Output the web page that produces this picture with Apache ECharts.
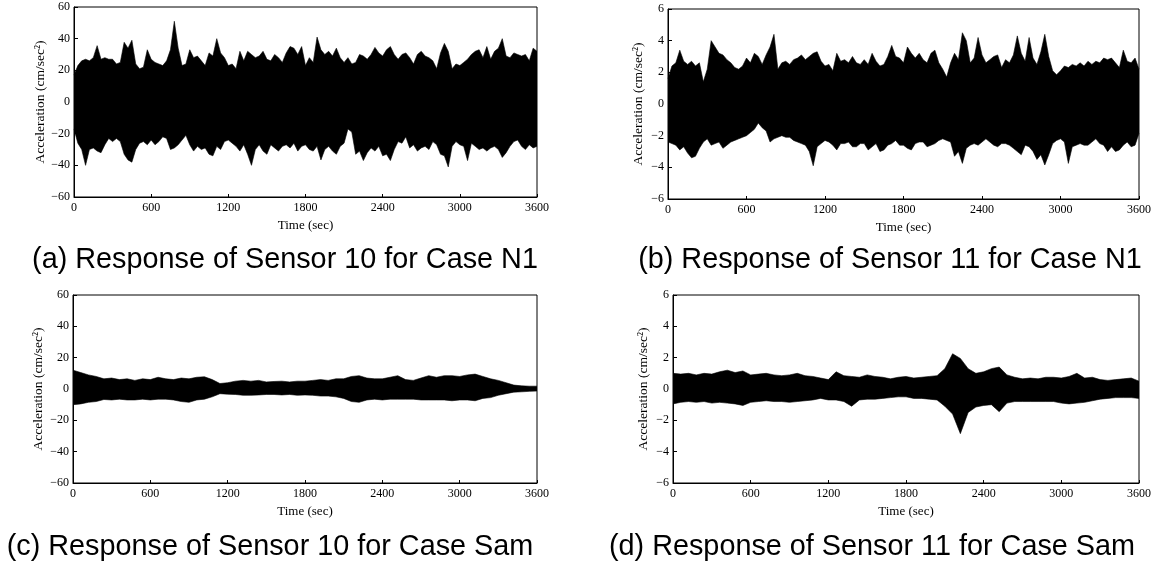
<!DOCTYPE html>
<html lang="en">
<head>
    <meta charset="UTF-8">
    <title>Sensor response</title>
    <script src="https://cdn.jsdelivr.net/npm/echarts@6/dist/echarts.min.js"></script>
    <style type="text/css">
        html, body { margin: 0; padding: 0; background: #fff; }
        #main { width: 1154px; height: 563px; }
    </style>
</head>
<body>
<div id="main"></div>
<script type="text/javascript">
    // time grid (sec): envelopes read every 30 s (case N1) and every 60 s (case Sam)
    const t30 = [];
    for (let s = 0; s <= 3600; s += 30) t30.push(s);
    const t60 = [];
    for (let s = 0; s <= 3600; s += 60) t60.push(s);

    const xTicks = [0, 600, 1200, 1800, 2400, 3000, 3600];

    // (a) sensor 10, case N1 - upper / lower peak envelope (cm/sec^2)
    const s10N1Upper = [17, 23, 26, 27, 26, 28, 35.6, 27, 28, 27, 27, 24, 25, 37.7, 34, 39, 24, 21, 22, 33,
        27, 25, 24, 23, 26, 33, 51, 34, 23, 24, 33, 28, 29, 26, 23, 31, 29, 40, 31, 28,
        23, 24, 21, 32, 26, 32, 30, 28, 29, 32, 27, 26, 30, 28, 25, 31, 35, 34, 30, 35,
        23, 28, 25, 41, 33, 30, 32, 29, 34, 28, 25, 28, 24, 25, 30, 29, 27, 30, 34.5, 31,
        29, 33, 35, 30, 27, 30, 31, 28, 24, 30, 32, 29, 28, 26, 21, 31, 37, 32, 21, 24,
        23, 25, 27, 30, 32, 33, 28, 35, 27, 32, 34, 40, 29, 28, 31, 30, 29, 30, 26, 34, 32];
    const s10N1Lower = [-17, -26, -30, -40, -30, -29, -31, -32, -27, -23, -25, -23, -25, -33, -36.6, -38, -30, -26, -25, -27,
        -24, -27, -25, -22, -23, -30, -29, -27, -24, -21, -27, -31, -28, -30, -29, -33, -34, -28, -30, -25,
        -24, -26, -28, -31, -27, -33, -40, -30, -27, -31, -33, -27, -29, -31, -28, -27, -29, -26, -31, -28,
        -27, -30, -31, -28, -36.6, -30, -28, -31, -33, -28, -26, -17, -19, -33, -31, -37, -32, -29, -31, -28,
        -34, -33, -37, -30, -25, -26, -22, -29, -27, -31, -29, -28, -30, -25, -27, -33, -34, -41, -28, -25,
        -27, -28, -37, -26, -28, -30, -29, -31, -29, -28, -30, -35, -32, -28, -25, -24, -28, -30, -27, -29, -28];

    // (b) sensor 11, case N1
    const s11N1Upper = [1.6, 2.4, 2.6, 3.4, 2.7, 2.5, 2.7, 2.4, 2.6, 1.4, 2.2, 4.0, 3.6, 3.2, 3.1, 2.8, 2.6, 2.3, 2.2, 2.4,
        2.9, 2.6, 3.2, 3.0, 2.5, 3.1, 3.6, 4.4, 2.2, 2.6, 2.7, 2.5, 2.8, 2.9, 3.1, 2.8, 3.0, 3.2, 3.3, 2.7,
        2.4, 2.5, 2.1, 3.2, 2.7, 2.8, 2.6, 3.0, 2.6, 2.5, 2.8, 2.5, 3.2, 2.7, 2.4, 2.5, 3.0, 3.7, 3.0, 2.9,
        2.6, 3.6, 3.2, 2.9, 3.2, 2.8, 2.6, 3.2, 3.4, 2.6, 2.2, 1.7, 2.6, 3.2, 2.8, 4.5, 4.0, 2.6, 2.9, 4.2,
        3.1, 2.6, 2.8, 3.0, 3.1, 2.3, 2.8, 2.6, 3.1, 4.3, 3.2, 2.7, 4.2, 2.9, 2.5, 3.3, 4.4, 3.0, 2.1, 1.85,
        2.1, 2.4, 2.3, 2.5, 2.4, 2.6, 2.4, 2.7, 2.5, 2.7, 2.6, 2.9, 2.8, 2.9, 2.6, 2.3, 3.4, 2.7, 2.6, 2.9, 2.2];
    const s11N1Lower = [-2.4, -2.5, -2.6, -2.9, -2.7, -3.1, -3.4, -3.3, -2.8, -2.4, -2.2, -2.6, -2.5, -2.4, -2.8, -2.6, -2.4, -2.3, -2.2, -2.1,
        -2.0, -1.8, -1.6, -1.2, -1.5, -1.7, -2.4, -2.2, -2.1, -2.0, -2.1, -2.1, -2.3, -2.4, -2.5, -2.6, -3.0, -3.9, -2.7, -2.5,
        -2.3, -2.4, -2.6, -2.9, -2.5, -2.5, -2.4, -2.7, -2.7, -2.5, -2.5, -2.9, -2.7, -2.5, -3.0, -2.9, -2.6, -2.5, -2.3, -2.6,
        -2.6, -2.8, -2.9, -2.5, -2.4, -2.4, -2.7, -2.6, -2.5, -2.3, -2.2, -2.3, -2.4, -3.3, -3.0, -3.75, -2.8, -2.6, -2.5, -2.6,
        -2.4, -2.2, -2.4, -2.6, -2.7, -2.5, -2.5, -2.6, -2.8, -3.0, -3.2, -2.6, -2.7, -3.0, -3.5, -3.2, -3.85, -3.2, -2.5, -2.3,
        -2.2, -2.4, -3.75, -2.7, -2.6, -2.5, -2.6, -2.6, -2.4, -2.2, -2.5, -2.6, -3.0, -2.7, -3.0, -2.9, -2.6, -2.4, -2.7, -2.6, -1.85];

    // (c) sensor 10, case Sam
    const s10SamUpper = [12, 10.5, 9, 8, 6.5, 7, 6, 6.5, 5.5, 6.5, 6, 7.5, 6.5, 6, 7, 6.5, 7.5, 7.8, 6, 3.5,
        4, 5, 5.5, 5, 5.5, 4.5, 4.8, 5, 4.5, 5, 5, 5.5, 6, 5.5, 6.5, 6.5, 8, 8.5, 7, 6.5,
        6.5, 7.5, 8.5, 6, 5.5, 7, 8.5, 7.5, 8.5, 8.5, 8, 9, 9.5, 8, 6.5, 5.5, 4, 2.5, 2, 1.8, 1.8];
    const s10SamLower = [-10, -9.5, -8.5, -8, -6.7, -7, -6.5, -7, -7, -6.5, -7, -6.5, -6.5, -7, -8, -8.5, -7, -6.5, -5, -3,
        -3.3, -3.5, -4, -4, -3.8, -3.5, -3.5, -3.8, -3.5, -4, -3.8, -4, -4.5, -4.5, -5, -6, -8, -8.5, -7, -6.5,
        -7, -6.5, -6.5, -6.5, -6.5, -7, -7, -7, -7, -7.5, -7, -7, -7.5, -6, -5.5, -4, -3, -2, -1.8, -1.5, -1.3];

    // (d) sensor 11, case Sam
    const s11SamUpper = [1.0, 0.95, 1.0, 0.9, 1.0, 0.95, 1.1, 1.2, 1.05, 1.15, 0.9, 0.95, 1.0, 0.9, 0.85, 0.9, 1.0, 0.85, 0.8, 0.7,
        0.6, 1.1, 0.85, 0.8, 0.75, 0.9, 0.8, 0.75, 0.65, 0.75, 0.8, 0.7, 0.75, 0.8, 0.85, 1.3, 2.25, 1.95, 1.3, 1.0,
        1.1, 1.3, 1.4, 0.9, 0.75, 0.65, 0.7, 0.65, 0.75, 0.75, 0.7, 0.8, 1.0, 0.7, 0.75, 0.6, 0.55, 0.6, 0.65, 0.7, 0.5];
    const s11SamLower = [-0.95, -0.85, -0.8, -0.85, -0.8, -0.9, -0.85, -0.9, -0.95, -1.05, -0.85, -0.8, -0.75, -0.8, -0.8, -0.85, -0.8, -0.75, -0.7, -0.6,
        -0.7, -0.7, -0.8, -1.1, -0.7, -0.65, -0.65, -0.6, -0.55, -0.5, -0.5, -0.6, -0.6, -0.65, -0.7, -1.1, -1.6, -2.85, -1.5, -1.15,
        -1.05, -1.0, -1.45, -0.9, -0.8, -0.8, -0.8, -0.8, -0.8, -0.8, -0.9, -0.95, -0.9, -0.85, -0.75, -0.65, -0.6, -0.55, -0.55, -0.55, -0.6];

    const captions = [
        '(a) Response of Sensor 10 for Case N1',
        '(b) Response of Sensor 11 for Case N1',
        '(c) Response of Sensor 10 for Case Sam',
        '(d) Response of Sensor 11 for Case Sam'
    ];

    const serif = '"Liberation Serif", "Times New Roman", serif';
    const sans = '"Liberation Sans", Arial, sans-serif';

    const panels = [
        {grid: {left: 74, top: 7, width: 463, height: 190}, lim: 60, step: 20, t: t30, up: s10N1Upper, lo: s10N1Lower, gap: 27, cx: 285, cy: 260},
        {grid: {left: 668, top: 9, width: 475, height: 190}, lim: 6, step: 2, t: t30, up: s11N1Upper, lo: s11N1Lower, gap: 23, cx: 890, cy: 260},
        {grid: {left: 73, top: 295, width: 464, height: 188}, lim: 60, step: 20, t: t60, up: s10SamUpper, lo: s10SamLower, gap: 28, cx: 270, cy: 547},
        {grid: {left: 673, top: 295, width: 466, height: 188}, lim: 6, step: 2, t: t60, up: s11SamUpper, lo: s11SamLower, gap: 23, cx: 872, cy: 547}
    ];

    function pairs(t, v) {
        const out = [];
        for (let i = 0; i < v.length; i++) out.push([t[i], v[i]]);
        return out;
    }

    function minus(v) {
        return v < 0 ? '\u2212' + (-v) : String(v);
    }

    const option = {
        animation: false,
        backgroundColor: '#fff',
        grid: [],
        xAxis: [],
        yAxis: [],
        series: [],
        graphic: []
    };

    panels.forEach(function (p, i) {
        option.grid.push(Object.assign({show: true, borderColor: '#000', borderWidth: 1}, p.grid));

        option.xAxis.push({
            gridIndex: i,
            type: 'value',
            min: 0,
            max: 3600,
            interval: 600,
            name: 'Time (sec)',
            nameLocation: 'middle',
            nameGap: 22,
            nameTextStyle: {fontFamily: serif, fontSize: 13, color: '#000'},
            axisLine: {show: true, onZero: false, lineStyle: {color: '#000', width: 1}},
            axisTick: {show: true, inside: true, length: 3, lineStyle: {color: '#000'}},
            axisLabel: {
                fontFamily: serif, fontSize: 12, color: '#000', margin: 5,
                formatter: function (v) { return xTicks.indexOf(v) >= 0 ? String(v) : ''; }
            },
            splitLine: {show: false}
        });

        option.yAxis.push({
            gridIndex: i,
            type: 'value',
            min: -p.lim,
            max: p.lim,
            interval: p.step,
            name: 'Acceleration (cm/sec\u00B2)',
            nameLocation: 'middle',
            nameGap: p.gap,
            nameTextStyle: {fontFamily: serif, fontSize: 13.5, color: '#000'},
            axisLine: {show: true, onZero: false, lineStyle: {color: '#000', width: 1}},
            axisTick: {show: true, inside: true, length: 4, lineStyle: {color: '#000'}},
            axisLabel: {fontFamily: serif, fontSize: 12, color: '#000', margin: 4, formatter: minus},
            splitLine: {show: false}
        });

        [p.up, p.lo].forEach(function (env) {
            option.series.push({
                type: 'line',
                xAxisIndex: i,
                yAxisIndex: i,
                data: pairs(p.t, env),
                symbol: 'none',
                silent: true,
                lineStyle: {color: '#000', width: 0.6},
                areaStyle: {color: '#000', opacity: 1}
            });
        });

        option.graphic.push({
            type: 'text',
            x: p.cx,
            y: p.cy,
            style: {
                text: captions[i],
                fontFamily: sans,
                fontSize: 28.8,
                fill: '#000',
                align: 'center',
                verticalAlign: 'middle'
            }
        });
    });

    const myChart = echarts.init(document.getElementById('main'));
    myChart.setOption(option);
</script>
</body>
</html>
